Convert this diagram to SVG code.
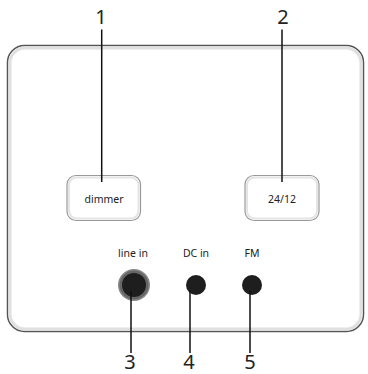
<svg xmlns="http://www.w3.org/2000/svg" width="368" height="374" viewBox="0 0 368 374">
<style>
.lbl{font-family:"Noto Sans","Open Sans",sans-serif;fill:#222;text-anchor:middle}
.num{font-size:20px}
.sm{font-size:10.5px}
.conn line{stroke:#111;stroke-width:1.5}
.btn-outer{fill:#fff;stroke:#999;stroke-width:1.2}
.btn-inner{fill:none;stroke:#e4e4e4;stroke-width:2}
</style>
<rect width="368" height="374" fill="#fff"/>
<g id="panel">
<rect x="7.5" y="45.5" width="356" height="286" rx="17" fill="#fff" stroke="#555" stroke-width="1.5"/>
<rect x="10" y="48" width="351" height="281" rx="15" fill="none" stroke="#e0e0e0" stroke-width="3"/>
</g>
<g id="dimmer">
<rect class="btn-outer" x="67" y="175.5" width="73.5" height="45" rx="9"/>
<rect class="btn-inner" x="69" y="177.5" width="69.5" height="41" rx="7.5"/>
<text class="lbl sm" x="104" y="203">dimmer</text>
</g>
<g id="clock">
<rect class="btn-outer" x="245" y="175.5" width="74" height="45" rx="9"/>
<rect class="btn-inner" x="247" y="177.5" width="70" height="41" rx="7.5"/>
<text class="lbl sm" x="282" y="203">24/12</text>
</g>
<g id="linein">
<text class="lbl sm" x="133" y="257">line in</text>
<circle cx="134" cy="285" r="16" fill="#888"/>
<circle cx="134" cy="285" r="14.5" fill="#666"/>
<circle cx="134" cy="285" r="12" fill="#1e1e1e"/>
</g>
<g id="dcin">
<text class="lbl sm" x="196" y="257">DC in</text>
<circle cx="196" cy="285" r="10" fill="#1e1e1e"/>
</g>
<g id="fm">
<text class="lbl sm" x="252" y="257">FM</text>
<circle cx="252" cy="285" r="10" fill="#1e1e1e"/>
</g>
<g class="conn">
<line x1="101.7" y1="29.5" x2="101.7" y2="182"/>
<line x1="282" y1="29.5" x2="282" y2="182"/>
<line x1="131" y1="291" x2="131" y2="353"/>
<line x1="190" y1="291" x2="190" y2="353"/>
<line x1="250" y1="291" x2="250" y2="353"/>
</g>
<g id="numbers">
<text class="lbl num" x="101" y="24">1</text>
<text class="lbl num" x="283" y="24">2</text>
<text class="lbl num" x="130" y="369">3</text>
<text class="lbl num" x="189" y="369">4</text>
<text class="lbl num" x="250" y="369">5</text>
</g>
</svg>
